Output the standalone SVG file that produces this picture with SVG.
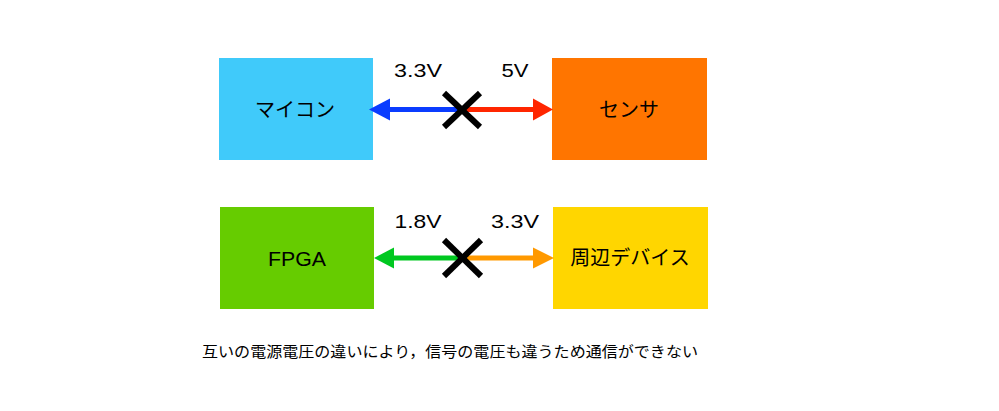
<svg xmlns="http://www.w3.org/2000/svg" width="999" height="411" viewBox="0 0 999 411">
<style>
.lbl{font-family:"Liberation Sans","Noto Sans CJK JP",sans-serif;font-size:20px;fill:#000;text-anchor:middle}
.v{font-family:"Liberation Sans","Noto Sans CJK JP",sans-serif;font-size:19px;fill:#000;text-anchor:middle}
.cap{font-family:"Noto Sans CJK JP",sans-serif;font-size:15px;fill:#000}
.ln{stroke-width:5;fill:none}
.x{stroke:#000;stroke-width:6}
</style>
<rect width="999" height="411" fill="#fff"/>
<g id="mycon"><rect x="219" y="58" width="154" height="102" fill="#40CAFA"/><text class="lbl" x="295" y="117">マイコン</text></g>
<g id="sensor"><rect x="552" y="58" width="155" height="102" fill="#FF7500"/><text class="lbl" x="629" y="117">センサ</text></g>
<g id="fpga"><rect x="220" y="207" width="154" height="102" fill="#66CC00"/><text class="lbl" x="297" y="266" textLength="58" lengthAdjust="spacingAndGlyphs">FPGA</text></g>
<g id="periph"><rect x="553" y="207" width="155" height="102" fill="#FFD600"/><text class="lbl" x="630" y="265">周辺デバイス</text></g>
<g id="connectors">
<line class="ln" x1="389" y1="109.5" x2="461" y2="109.5" stroke="#0A3CFF"/>
<polygon points="369,109.5 390,98.5 390,120.5" fill="#0A3CFF"/>
<line class="ln" x1="461" y1="109.5" x2="534" y2="109.5" stroke="#FF2600"/>
<polygon points="553,109.5 533,98.5 533,120.5" fill="#FF2600"/>
<line class="x" x1="444" y1="93" x2="480" y2="127"/>
<line class="x" x1="480" y1="93" x2="444" y2="127"/>
<line class="ln" x1="393" y1="258" x2="462" y2="258" stroke="#00C820"/>
<polygon points="374,258 394,247.5 394,268.5" fill="#00C820"/>
<line class="ln" x1="462" y1="258" x2="534" y2="258" stroke="#FF9900"/>
<polygon points="554,258 533,247.5 533,268.5" fill="#FF9900"/>
<line class="x" x1="444" y1="240" x2="481" y2="276"/>
<line class="x" x1="481" y1="240" x2="444" y2="276"/>
</g>
<text class="v" x="418" y="77" textLength="48" lengthAdjust="spacingAndGlyphs">3.3V</text>
<text class="v" x="515" y="77" textLength="27" lengthAdjust="spacingAndGlyphs">5V</text>
<text class="v" x="418" y="228" textLength="47" lengthAdjust="spacingAndGlyphs">1.8V</text>
<text class="v" x="515" y="228" textLength="48" lengthAdjust="spacingAndGlyphs">3.3V</text>
<text class="cap" x="202" y="357" textLength="496" lengthAdjust="spacingAndGlyphs">互いの電源電圧の違いにより，信号の電圧も違うため通信ができない</text>
</svg>
